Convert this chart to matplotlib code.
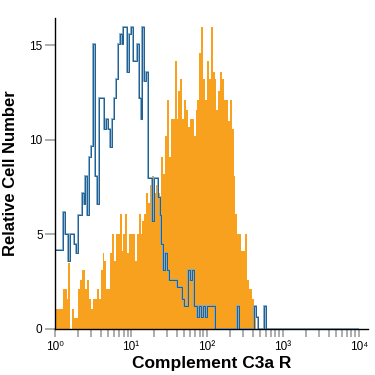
import numpy as np
import matplotlib
matplotlib.use("Agg")
import matplotlib.pyplot as plt
from matplotlib.ticker import FixedLocator, FuncFormatter, LogLocator, NullFormatter

# histogram channels: 40 log bins per decade, 10^0 .. 10^4
bin_width = 0.025

# isotype control (blue outline)
control = [
    4.2, 4.2, 4.2, 4.2, 6.2, 5.0, 5.0, 3.6, 5.0, 5.0,
    4.5, 4.0, 6.0, 6.0, 7.2, 6.6, 8.1, 6.0, 9.1, 9.7,
    15.1, 8.1, 6.6, 12.2, 12.2, 12.2, 10.6, 11.1, 10.6, 9.6,
    11.1, 12.2, 13.2, 15.1, 15.6, 15.1, 16.0, 16.0, 13.6, 15.6,
    16.0, 14.2, 14.2, 15.1, 12.2, 11.1, 16.0, 13.1, 13.6, 8.0,
    8.0, 5.7, 8.0, 8.0, 7.0, 6.0, 4.5, 3.1, 4.0, 3.1,
    2.6, 2.6, 2.6, 2.6, 2.2, 2.2, 2.2, 1.6, 1.2, 1.2,
    3.1, 2.6, 3.1, 1.2, 1.2, 0.65, 1.2, 0.65, 1.2, 0.65,
    1.2, 1.2, 1.2, 1.2, 0, 0, 0, 0, 0, 0,
    0, 0, 0, 0, 0, 0, 1.2, 0, 0, 0,
    0, 0, 0, 0, 0, 1.2, 0.65, 0, 0, 0,
    1.2,
] + [0] * 49

# Complement C3a R stained cells (orange filled)
stained = [
    1.05, 1.05, 1.05, 1.05, 2.1, 2.1, 1.6, 3.5, 0, 1.05,
    0.55, 0.55, 2.1, 2.6, 3.1, 3.1, 2.1, 2.6, 1.6, 1.05,
    1.6, 1.6, 2.1, 1.6, 3.1, 4.0, 3.6, 2.1, 2.1, 4.0,
    5.0, 3.6, 5.0, 5.0, 6.1, 4.1, 5.0, 6.1, 4.0, 5.0,
    5.0, 5.0, 3.6, 5.0, 6.1, 5.0, 5.7, 6.1, 7.2, 6.65,
    7.6, 8.1, 7.2, 7.6, 7.2, 6.1, 9.1, 8.2, 10.2, 12.1,
    9.1, 11.1, 11.1, 14.2, 11.1, 12.6, 13.2, 11.1, 12.1, 11.6,
    10.7, 11.1, 11.1, 10.2, 11.6, 12.1, 14.6, 16.0, 13.2, 12.1,
    14.2, 13.2, 16.0, 13.6, 13.2, 11.6, 12.6, 13.6, 13.2, 12.1,
    12.1, 11.0, 12.1, 10.6, 8.1, 6.1, 5.0, 5.0, 4.1, 4.1,
    5.0, 2.6, 2.1, 2.1, 1.6, 0.55,
]

y_ticks = [0, 5, 10, 15]
x_decades = [0, 1, 2, 3, 4]
sup = {"0": "\u2070", "1": "\u00b9", "2": "\u00b2", "3": "\u00b3", "4": "\u2074"}

edges_c = 10 ** (np.arange(len(control) + 1) * bin_width)
edges_s = 10 ** (np.arange(len(stained) + 1) * bin_width)

fig = plt.figure(figsize=(3.75, 3.75), dpi=100)
ax = fig.add_axes([0.147, 0.123, 0.834, 0.829])

ax.stairs(stained, edges_s, fill=True, color="#f8a11f", baseline=0)
ax.stairs(control, edges_c, fill=False, color="#7eaacb", linewidth=1.3)
ax.stairs(control, edges_c, fill=False, color="#1f5f8f", linewidth=0.7)

ax.set_xscale("log")
ax.set_xlim(1, 10 ** 4.12)
ax.set_ylim(0, 16.45)

ax.xaxis.set_major_locator(FixedLocator([10 ** d for d in x_decades]))
ax.xaxis.set_major_formatter(FuncFormatter(
    lambda v, p: "10" + sup[str(int(round(np.log10(v))))]))
ax.xaxis.set_minor_locator(LogLocator(base=10, subs=np.arange(2, 10), numticks=20))
ax.xaxis.set_minor_formatter(NullFormatter())
ax.set_yticks(y_ticks)

for s in ["top", "right"]:
    ax.spines[s].set_visible(False)
ax.spines["left"].set_linewidth(1.0)
ax.spines["bottom"].set_linewidth(1.0)

ax.tick_params(axis="both", which="both", color="#a0a0a0", width=1.2,
               labelsize=8.5, labelcolor="black")
ax.tick_params(axis="x", which="major", length=6, pad=3)
ax.tick_params(axis="x", which="minor", length=6)
ax.tick_params(axis="y", length=7, pad=2)
for lab in ax.get_xticklabels() + ax.get_yticklabels():
    lab.set_family(["Liberation Sans", "DejaVu Sans"])

ax.set_xlabel("Complement C3a R", fontsize=12.5, fontweight="bold",
              family="Liberation Sans", labelpad=2)
ax.set_ylabel("Relative Cell Number", fontsize=12, fontweight="bold",
              family="Liberation Sans", labelpad=8)

fig.savefig("out.png", dpi=100)
